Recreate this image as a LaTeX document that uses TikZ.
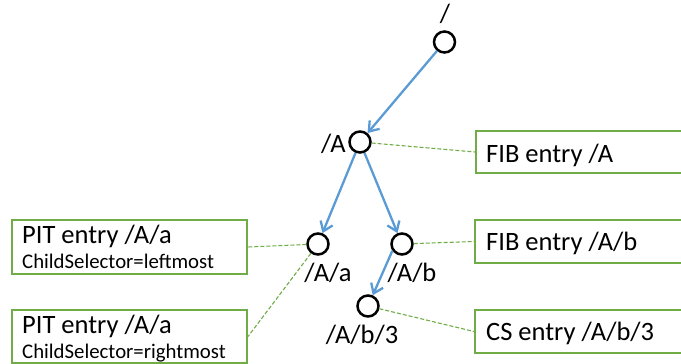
\documentclass[tikz,border=0pt]{standalone}
\usepackage{fontspec}
\setmainfont{Carlito}
\usetikzlibrary{arrows.meta}
\definecolor{treeblue}{RGB}{91,155,213}
\definecolor{boxgreen}{RGB}{112,173,71}
\begin{document}
\begin{tikzpicture}[x=1pt,y=-1pt,
  vertex/.style={circle,draw=black,line width=2.5pt,minimum size=21pt,inner sep=0pt},
  namelabel/.style={inner sep=0pt,anchor=base,font=\fontsize{26.5}{30}\selectfont},
  entrybox/.style={draw=boxgreen,line width=2pt,inner sep=0pt,anchor=north west},
  entrytext/.style={inner sep=0pt,anchor=base west,font=\fontsize{26.5}{30}\selectfont},
  selectortext/.style={inner sep=0pt,anchor=base west,font=\fontsize{20.8}{24}\selectfont},
  treeedge/.style={draw=treeblue,line width=2.3pt,-{Straight Barb[length=9pt,width=13pt]}},
  link/.style={draw=boxgreen,line width=1.1pt,dash pattern=on 4pt off 2pt}]
\useasboundingbox (0,0) rectangle (681,364);
\clip (0,0) rectangle (681,364);

% name tree
\node[vertex] (root) at (444.5,42) {};
\node[vertex] (nA) at (360,142) {};
\node[vertex] (nAa) at (318,244) {};
\node[vertex] (nAb) at (402,244) {};
\node[vertex] (nAb3) at (368,306) {};

\node[namelabel] (lroot) at (445,23) {/};
\node[namelabel,anchor=base east] (lA) at (346,152) {/A};
\node[namelabel] (lAa) at (328,281) {/A/a};
\node[namelabel] (lAb) at (412,281) {/A/b};
\node[namelabel] (lAb3) at (362,343) {/A/b/3};

\draw[treeedge] (root) -- (nA);
\draw[treeedge] (nA) -- (nAa);
\draw[treeedge] (nA) -- (nAb);
\draw[treeedge] (nAb.215) -- (nAb3);

% table entries
\node[entrybox,minimum width=215pt,minimum height=42pt] (fibA) at (475,130) {};
\node[entrytext] (tfibA) at (486,162) {FIB entry /A};

\node[entrybox,minimum width=215pt,minimum height=43pt] (fibAb) at (474,219) {};
\node[entrytext] (tfibAb) at (486,250) {FIB entry /A/b};

\node[entrybox,minimum width=215pt,minimum height=43pt] (csAb3) at (474,309) {};
\node[entrytext] (tcsAb3) at (486,340) {CS entry /A/b/3};

\node[entrybox,minimum width=235pt,minimum height=54pt] (pitL) at (11,219) {};
\node[entrytext] (tpitL) at (22,243) {PIT entry /A/a};
\node[selectortext] (spitL) at (22,268) {ChildSelector=leftmost};

\node[entrybox,minimum width=235pt,minimum height=53pt] (pitR) at (11,309) {};
\node[entrytext] (tpitR) at (22,333) {PIT entry /A/a};
\node[selectortext] (spitR) at (22,358) {ChildSelector=rightmost};

% links between names and entries
\draw[link] (nA) -- (fibA.west);
\draw[link] (nAb) -- (fibAb.west);
\draw[link] (nAb3) -- (csAb3.west);
\draw[link] (nAa) -- (pitL.east);
\draw[link] (nAa) -- (pitR.east);
\end{tikzpicture}
\end{document}
